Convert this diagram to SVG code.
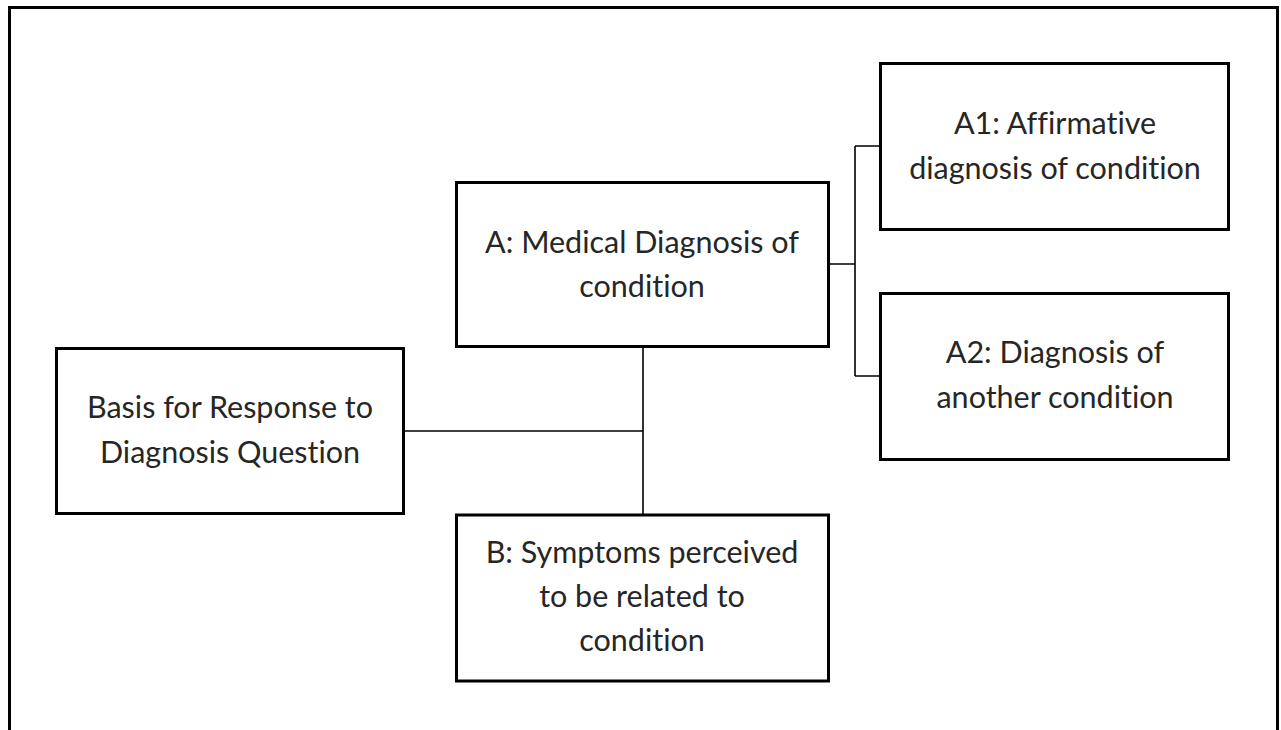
<svg xmlns="http://www.w3.org/2000/svg" width="1281" height="730" viewBox="0 0 1281 730">
<style>
.box{fill:#fff;stroke:#000;stroke-width:3}
.conn{fill:none;stroke:#000;stroke-width:1.6}
text{font-family:Lato,"Open Sans","Liberation Sans",sans-serif;font-size:30.5px;fill:#262626;text-anchor:middle;font-variant-ligatures:none}
</style>
<rect x="0" y="0" width="1281" height="730" fill="#fff"/>
<rect x="9.5" y="7.5" width="1268" height="740" fill="none" stroke="#000" stroke-width="3"/>
<g id="connectors">
<path class="conn" d="M829 264 H855 M855 146 V376 M855 146 H880 M855 376 H880"/>
<path class="conn" d="M643 347 V514 M404 431 H643"/>
</g>
<g id="basis">
<rect class="box" x="56.5" y="348.5" width="347" height="165"/>
<text x="230" y="418">Basis for Response to</text>
<text x="230" y="463">Diagnosis Question</text>
</g>
<g id="A">
<rect class="box" x="456.5" y="182.5" width="372" height="164"/>
<text x="642" y="253">A: Medical Diagnosis of</text>
<text x="642" y="297">condition</text>
</g>
<g id="B">
<rect class="box" x="456.5" y="515" width="372" height="166"/>
<text x="642" y="563">B: Symptoms perceived</text>
<text x="642" y="607">to be related to</text>
<text x="642" y="651">condition</text>
</g>
<g id="A1">
<rect class="box" x="880.5" y="63.5" width="348" height="166"/>
<text x="1055" y="134">A1: Affirmative</text>
<text x="1055" y="179">diagnosis of condition</text>
</g>
<g id="A2">
<rect class="box" x="880.5" y="293.5" width="348" height="166"/>
<text x="1055" y="363">A2: Diagnosis of</text>
<text x="1055" y="408">another condition</text>
</g>
</svg>
